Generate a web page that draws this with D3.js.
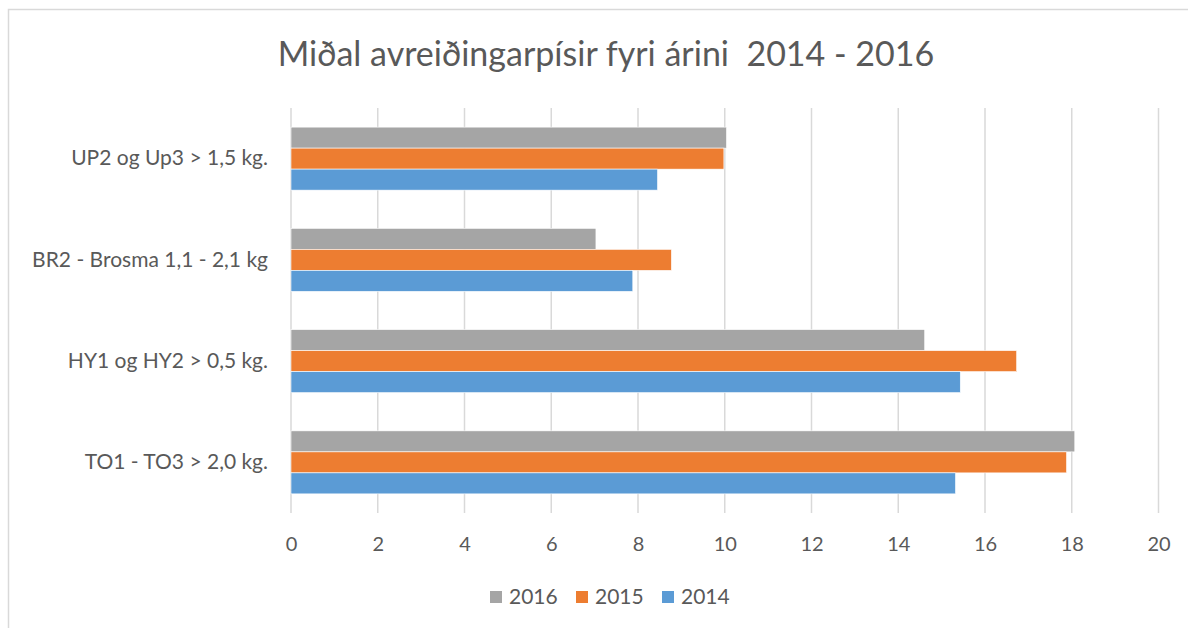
<!DOCTYPE html>
<html>
<head>
<meta charset="utf-8">
<script src="https://d3js.org/d3.v7.min.js"></script>
<style>
  body { margin: 0; background: #fff; }
  text { font-family: Lato, "Open Sans", sans-serif; fill: #595959; }
</style>
</head>
<body>
<div id="chart"></div>
<script>
// data
var categories = ["UP2 og Up3 > 1,5 kg.", "BR2 - Brosma 1,1 - 2,1 kg", "HY1 og HY2 > 0,5 kg.", "TO1 - TO3 > 2,0 kg."];
var seriesNames = ["2016", "2015", "2014"];
var values2016 = [10.04, 7.03, 14.61, 18.07];
var values2015 = [9.98, 8.77, 16.73, 17.88];
var values2014 = [8.45, 7.88, 15.43, 15.32];
var xTicks = [0, 2, 4, 6, 8, 10, 12, 14, 16, 18, 20];
var colors = {"2016": "#A5A5A5", "2015": "#ED7D31", "2014": "#5B9BD5"};

var width = 1188, height = 628;
var plotLeft = 291, plotRight = 1158.5, plotTop = 108, plotBottom = 513;

var svg = d3.select("#chart").append("svg")
  .attr("width", width)
  .attr("height", height);

// chart border
svg.append("rect")
  .attr("x", 8.5).attr("y", 9.5)
  .attr("width", width + 20).attr("height", height + 20)
  .attr("fill", "none")
  .attr("stroke", "#D9D9D9")
  .attr("stroke-width", 1.5);

svg.append("text")
  .attr("x", 606).attr("y", 66)
  .attr("text-anchor", "middle")
  .style("font-size", "34px")
  .style("white-space", "pre")
  .text("Miðal avreiðingarpísir fyri árini  2014 - 2016");

var x = d3.scaleLinear().domain([0, 20]).range([plotLeft, plotRight]);

var pad = 38.25 / 101.25;
var y = d3.scaleBand().domain(categories).range([plotTop, plotBottom])
  .paddingInner(pad).paddingOuter(pad / 2);
var ySub = d3.scaleBand().domain(seriesNames).range([0, y.bandwidth()]);

// gridlines
svg.append("g").selectAll("line")
  .data(xTicks)
  .enter().append("line")
  .attr("x1", d => x(d)).attr("x2", d => x(d))
  .attr("y1", plotTop).attr("y2", plotBottom)
  .attr("stroke", "#D9D9D9")
  .attr("stroke-width", 1.5);

var rows = [];
categories.forEach(function(c, i) {
  rows.push({cat: c, year: "2016", value: values2016[i]});
  rows.push({cat: c, year: "2015", value: values2015[i]});
  rows.push({cat: c, year: "2014", value: values2014[i]});
});

svg.append("g").selectAll("rect")
  .data(rows)
  .enter().append("rect")
  .attr("x", x(0))
  .attr("y", d => y(d.cat) + ySub(d.year))
  .attr("width", d => x(d.value) - x(0))
  .attr("height", ySub.bandwidth())
  .attr("fill", d => colors[d.year])
  .attr("stroke", "#fff")
  .attr("stroke-width", 0.6);

// x tick labels
var xAxis = d3.axisBottom(x).tickValues(xTicks).tickSize(0).tickPadding(0);
var gx = svg.append("g")
  .attr("transform", "translate(0," + 537 + ")")
  .call(xAxis);
gx.select(".domain").remove();
gx.selectAll("text")
  .style("font-size", "20px")
  .style("font-family", "Lato, 'Open Sans', sans-serif")
  .attr("fill", "#595959");

// category labels
var yAxis = d3.axisLeft(y).tickSize(0).tickPadding(0);
var gy = svg.append("g")
  .attr("transform", "translate(" + 268 + ",0)")
  .call(yAxis);
gy.select(".domain").remove();
gy.selectAll("text")
  .style("font-size", "21px")
  .style("font-family", "Lato, 'Open Sans', sans-serif")
  .attr("fill", "#595959");

// legend
var legendX = [490, 576, 662];
var legend = svg.append("g").selectAll("g")
  .data(seriesNames)
  .enter().append("g")
  .attr("transform", (d, i) => "translate(" + legendX[i] + ",591)");
legend.append("rect")
  .attr("width", 12).attr("height", 12)
  .attr("fill", d => colors[d]);
legend.append("text")
  .attr("x", 19).attr("y", 13)
  .style("font-size", "21px")
  .text(d => d);
</script>
</body>
</html>
